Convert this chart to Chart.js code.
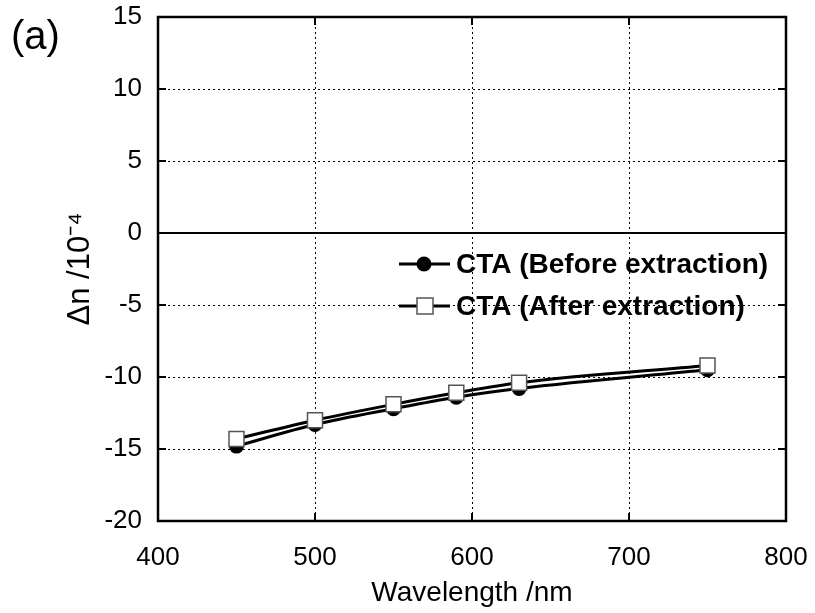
<!DOCTYPE html>
<html>
<head>
<meta charset="utf-8">
<script src="https://cdn.jsdelivr.net/npm/chart.js@4"></script>
<style>
  body { margin: 0; background: #fff; }
  #wrap { position: relative; width: 815px; height: 613px; }
  #panel { position: absolute; left: 11px; top: 13px; font: 40px "Liberation Sans", Arial, sans-serif; }
</style>
</head>
<body>
<div id="wrap">
  <canvas id="dnChart" width="815" height="613"></canvas>
  <div id="panel">(a)</div>
</div>
<script>
const wavelengths = [450, 500, 550, 590, 630, 750];
const beforeExtraction = [-14.8, -13.3, -12.2, -11.4, -10.8, -9.5];
const afterExtraction = [-14.3, -13.0, -11.9, -11.1, -10.4, -9.2];
const xTicks = [400, 500, 600, 700, 800];
const yTicks = [-20, -15, -10, -5, 0, 5, 10, 15];
const seriesNames = ["CTA (Before extraction)", "CTA (After extraction)"];

const font = "Liberation Sans, Arial, sans-serif";

// keep tick labels from pushing the plot area inward
function noLabelPadding(axis) {
    axis.paddingTop = 0;
    axis.paddingBottom = 0;
    axis.paddingLeft = 0;
    axis.paddingRight = 0;
}

const framePlugin = {
    id: "frame",
    afterDatasetsDraw(chart) {
        const ctx = chart.ctx;
        const a = chart.chartArea;
        const x = chart.scales.x, y = chart.scales.y;
        ctx.save();
        ctx.strokeStyle = "#000";
        // zero line
        ctx.lineWidth = 2;
        ctx.beginPath();
        ctx.moveTo(a.left, y.getPixelForValue(0));
        ctx.lineTo(a.right, y.getPixelForValue(0));
        ctx.stroke();
        // inner ticks
        ctx.beginPath();
        yTicks.forEach(v => {
            const py = y.getPixelForValue(v);
            ctx.moveTo(a.left, py); ctx.lineTo(a.left + 8, py);
            ctx.moveTo(a.right, py); ctx.lineTo(a.right - 8, py);
        });
        xTicks.forEach(v => {
            const px = x.getPixelForValue(v);
            ctx.moveTo(px, a.bottom); ctx.lineTo(px, a.bottom - 8);
            ctx.moveTo(px, a.top); ctx.lineTo(px, a.top + 8);
        });
        ctx.stroke();
        // frame
        ctx.lineWidth = 2.5;
        ctx.strokeRect(a.left, a.top, a.right - a.left, a.bottom - a.top);
        ctx.restore();
    },
    afterDraw(chart) {
        // legend inside the plot
        const ctx = chart.ctx;
        const rows = [
            { name: seriesNames[0], y: 264, style: "circle" },
            { name: seriesNames[1], y: 306, style: "square" }
        ];
        ctx.save();
        rows.forEach(r => {
            ctx.strokeStyle = "#000";
            ctx.lineWidth = 3;
            ctx.beginPath();
            ctx.moveTo(399, r.y); ctx.lineTo(450, r.y);
            ctx.stroke();
            if (r.style === "circle") {
                ctx.fillStyle = "#000";
                ctx.beginPath();
                ctx.arc(424, r.y, 7.5, 0, Math.PI * 2);
                ctx.fill();
            } else {
                ctx.fillStyle = "#fff";
                ctx.lineWidth = 1.5;
                ctx.strokeStyle = "#555";
                ctx.fillRect(417, r.y - 8, 16, 16);
                ctx.strokeRect(417, r.y - 8, 16, 16);
            }
            ctx.fillStyle = "#000";
            ctx.font = "bold 28px " + font;
            ctx.textBaseline = "middle";
            ctx.fillText(r.name, 456, r.y + 1);
        });
        ctx.restore();
    }
};

new Chart(document.getElementById("dnChart"), {
    type: "line",
    data: {
        datasets: [
            {
                label: seriesNames[0],
                data: wavelengths.map((w, i) => ({ x: w, y: beforeExtraction[i] })),
                borderColor: "#000",
                borderWidth: 3,
                pointStyle: "circle",
                pointRadius: 7.5,
                pointBackgroundColor: "#000",
                pointBorderColor: "#000",
                pointBorderWidth: 0,
                cubicInterpolationMode: "monotone",
                order: 1
            },
            {
                label: seriesNames[1],
                data: wavelengths.map((w, i) => ({ x: w, y: afterExtraction[i] })),
                borderColor: "#000",
                borderWidth: 3,
                pointStyle: "rect",
                pointRadius: 10.6,
                pointBackgroundColor: "#fff",
                pointBorderColor: "#555",
                pointBorderWidth: 1.5,
                cubicInterpolationMode: "monotone",
                order: 0
            }
        ]
    },
    options: {
        responsive: false,
        animation: false,
        layout: { padding: { top: 17, right: 29, left: 0, bottom: 0 } },
        plugins: {
            legend: { display: false },
            tooltip: { enabled: false }
        },
        scales: {
            x: {
                type: "linear",
                min: 400,
                max: 800,
                afterBuildTicks: axis => { axis.ticks = xTicks.map(v => ({ value: v })); },
                afterFit: axis => { axis.height = 92; noLabelPadding(axis); },
                ticks: { color: "#000", font: { family: font, size: 26 }, padding: 21 },
                grid: { color: "#000", lineWidth: 1, drawTicks: false },
                border: { display: false, dash: [2, 3] },
                title: {
                    display: true,
                    text: "Wavelength /nm",
                    color: "#000",
                    font: { family: font, size: 28 },
                    padding: { top: 0, bottom: 3 }
                }
            },
            y: {
                min: -20,
                max: 15,
                afterBuildTicks: axis => { axis.ticks = yTicks.map(v => ({ value: v })); },
                afterFit: axis => { axis.width = 158; noLabelPadding(axis); },
                ticks: { color: "#000", font: { family: font, size: 26 }, padding: 16 },
                grid: { color: "#000", lineWidth: 1, drawTicks: false },
                border: { display: false, dash: [2, 3] },
                title: {
                    display: true,
                    text: "Δn /10⁻⁴",
                    color: "#000",
                    font: { family: font, size: 31 },
                    padding: { top: 62, bottom: 0 }
                }
            }
        }
    },
    plugins: [framePlugin]
});
</script>
</body>
</html>
